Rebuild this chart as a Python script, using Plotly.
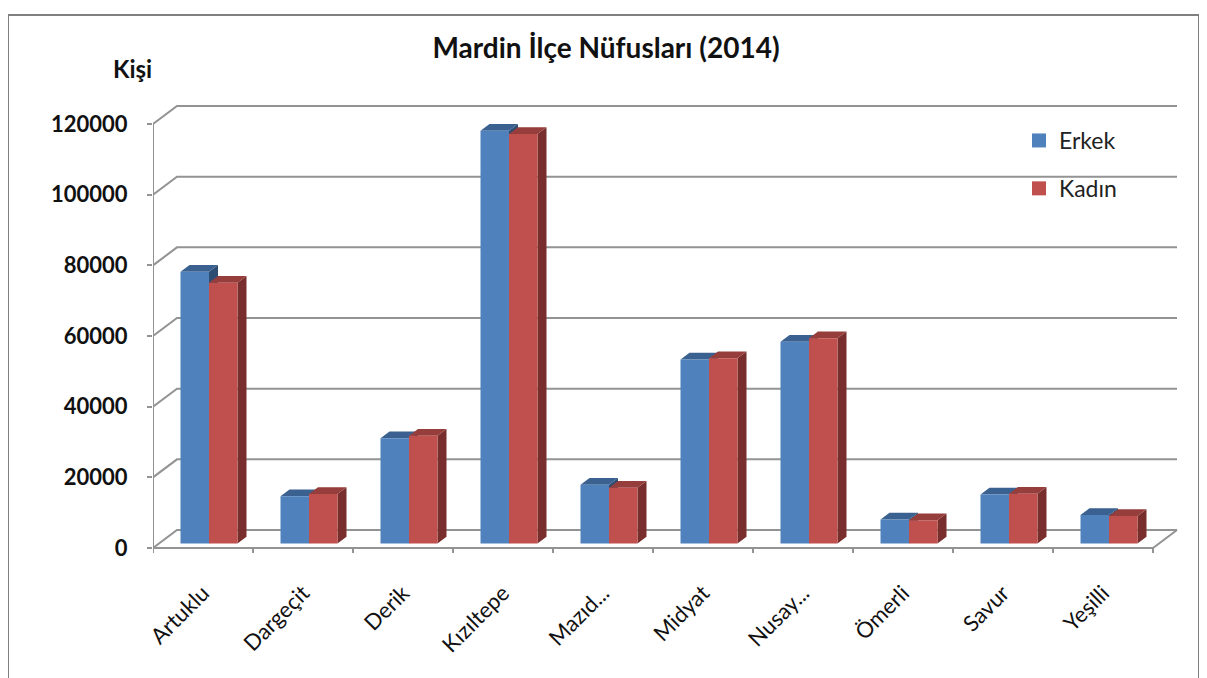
import plotly.graph_objects as go

# ---- data ----
categories = ["Artuklu", "Dargeçit", "Derik", "Kızıltepe", "Mazıd...",
              "Midyat", "Nusay...", "Ömerli", "Savur", "Yeşilli"]
erkek = [76900, 13400, 29800, 116800, 16600, 52100, 57100, 6800, 13900, 8100]
kadin = [73800, 14000, 30500, 115900, 15800, 52400, 58100, 6600, 14100, 7800]
y_ticks = [0, 20000, 40000, 60000, 80000, 100000, 120000]
title_text = "Mardin İlçe Nüfusları (2014)"
y_title = "Kişi"
series_names = ["Erkek", "Kadın"]

# ---- 3D projection parameters (in data units) ----
DX = 0.24          # horizontal shift of the back wall (category units)
DY = 5094          # vertical shift of the back wall (value units)
FB = 0.25          # depth fraction of the bar front plane
BD = 0.375         # depth fraction occupied by bars
BW = 0.285         # width of one bar (category units)

base_x = FB * DX
base_y = FB * DY
ddx = BD * DX
ddy = BD * DY

GRID = "#939393"
BLUE = ("#4F81BD", "#3B6190", "#2E4D73")
RED = ("#C0504D", "#963E3C", "#772E2C")
FONT = "Lato"

# page layout (the page body adds an 8px offset)
OFF = 8
W, H = 1207 - OFF, 678 - OFF
PL, PR, PT, PB = 153, 1180, 103, 553  # plot area on the page


def px(xp):
    return (xp - PL) / (PR - PL)


def py(yp):
    return (PB - yp) / (PB - PT)


fig = go.Figure()

# back wall gridlines + left wall diagonals
gx, gy = [], []
for v in y_ticks:
    gx += [-0.5, -0.5 + DX, 9.5 + DX, None]
    gy += [v, v + DY, v + DY, None]
gx += [-0.5, 9.5, 9.5 + DX, None]
gy += [0, 0, DY, None]
gx += [-0.5, -0.5, None]
gy += [0, max(y_ticks), None]
for i in range(len(categories) + 1):
    gx += [i - 0.5, i - 0.5, None]
    gy += [0, -1700, None]
fig.add_trace(go.Scatter(x=gx, y=gy, mode="lines", line=dict(color=GRID, width=2),
                         hoverinfo="skip", showlegend=False))


def faces(values, offset):
    fx, fy, tx, ty, sx, sy = [], [], [], [], [], []
    for i, v in enumerate(values):
        xl = i + base_x + offset
        xr = xl + BW
        b = base_y
        t = b + v
        fx += [xl, xr, xr, xl, xl, None]
        fy += [b, b, t, t, b, None]
        tx += [xl, xr, xr + ddx, xl + ddx, xl, None]
        ty += [t, t, t + ddy, t + ddy, t, None]
        sx += [xr, xr + ddx, xr + ddx, xr, xr, None]
        sy += [b, b + ddy, t + ddy, t, b, None]
    return (fx, fy), (tx, ty), (sx, sy)


def poly(xy, color):
    return go.Scatter(x=xy[0], y=xy[1], mode="lines", fill="toself",
                      fillcolor=color, line=dict(width=0, color=color),
                      hoverinfo="skip", showlegend=False)


ef, et, es = faces(erkek, -BW)
kf, kt, ks = faces(kadin, 0.0)
fig.add_trace(poly(es, BLUE[2]))
fig.add_trace(poly(et, BLUE[1]))
fig.add_trace(poly(ks, RED[2]))
fig.add_trace(poly(kt, RED[1]))
fig.add_trace(poly(ef, BLUE[0]))
fig.add_trace(poly(kf, RED[0]))

for name, col, grp in [(series_names[0], BLUE[0], "a"), (series_names[1], RED[0], "b")]:
    fig.add_trace(go.Scatter(x=[None], y=[None], mode="markers", name=name,
                             legendgroup=grp,
                             marker=dict(symbol="square", size=14, color=col)))

fig.update_layout(
    width=W, height=H,
    paper_bgcolor="white", plot_bgcolor="white",
    margin=dict(l=PL - OFF, r=W - (PR - OFF), t=PT - OFF, b=H - (PB - OFF), pad=0),
    showlegend=True,
    legend=dict(x=px(1019), y=py(119), xanchor="left", yanchor="top",
                font=dict(family=FONT, size=23, color="#222222"),
                tracegroupgap=15, bgcolor="rgba(0,0,0,0)"),
    title=dict(text="<b>" + title_text + "</b>", x=(606 - OFF) / W, xanchor="center",
               y=1 - (48 - OFF) / H, yanchor="middle",
               font=dict(family=FONT, size=28, color="#111111")),
    xaxis=dict(range=[-0.5, 9.77], showgrid=False, zeroline=False, showline=False,
               tickvals=list(range(len(categories))), ticktext=categories,
               tickangle=-45, ticks="", ticklabelstandoff=22,
               tickfont=dict(family=FONT, size=22, color="#111111"), fixedrange=True),
    yaxis=dict(range=[-1415, 125943], showgrid=False, zeroline=False, showline=False,
               tickvals=y_ticks, ticktext=[str(v) for v in y_ticks],
               ticks="outside", ticklen=5, tickwidth=2, tickcolor=GRID,
               ticklabelstandoff=15,
               tickfont=dict(family=FONT, size=22, color="#111111", weight="bold"),
               fixedrange=True),
    annotations=[dict(text="<b>" + y_title + "</b>", xref="paper", yref="paper",
                      x=px(132), y=py(68), xanchor="center",
                      yanchor="middle", showarrow=False,
                      font=dict(family=FONT, size=24, color="#111111"))],
    shapes=[dict(type="rect", xref="paper", yref="paper",
                 x0=px(8), x1=px(1199), y0=py(700), y1=py(15),
                 line=dict(color="#7F7F7F", width=2), layer="below")],
)

fig.write_html("out.html")
